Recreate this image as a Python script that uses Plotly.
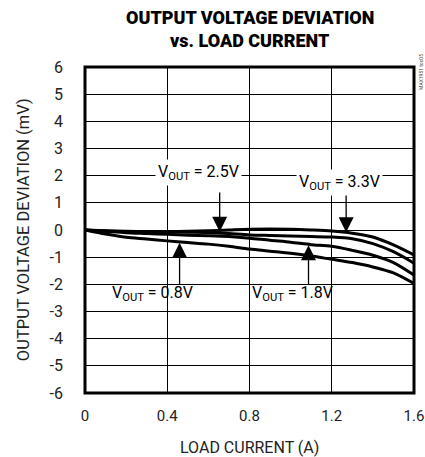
import plotly.graph_objects as go

load_current = [0, 0.1, 0.2, 0.3, 0.4, 0.5, 0.6, 0.7, 0.8, 0.9, 1.0, 1.1, 1.2, 1.3, 1.4, 1.5, 1.6]
dev_0v8 = [0, -0.15, -0.27, -0.33, -0.40, -0.46, -0.52, -0.60, -0.70, -0.78, -0.86, -0.96, -1.08, -1.20, -1.36, -1.58, -1.97]
dev_1v8 = [0, -0.05, -0.10, -0.13, -0.16, -0.19, -0.21, -0.24, -0.30, -0.38, -0.45, -0.54, -0.60, -0.75, -0.93, -1.20, -1.66]
dev_2v5 = [0, -0.03, -0.05, -0.06, -0.07, -0.08, -0.09, -0.13, -0.18, -0.20, -0.22, -0.24, -0.26, -0.32, -0.50, -0.80, -1.22]
dev_3v3 = [0, -0.04, -0.06, -0.07, -0.06, -0.05, -0.03, 0.0, 0.03, 0.04, 0.03, 0.0, -0.04, -0.12, -0.26, -0.55, -0.92]

x_ticks = [0, 0.4, 0.8, 1.2, 1.6]
x_tick_text = ["0", "0.4", "0.8", "1.2", "1.6"]
y_ticks = [6, 5, 4, 3, 2, 1, 0, -1, -2, -3, -4, -5, -6]
y_tick_text = ["6", "5", "4", "3", "2", "1", "0", "-1", "-2", "-3", "-4", "-5", "-6"]

labels = [("V<sub>OUT</sub> = 2.5V", 0.55, 2.12),
          ("V<sub>OUT</sub> = 3.3V", 1.24, 1.76),
          ("V<sub>OUT</sub> = 0.8V", 0.33, -2.32),
          ("V<sub>OUT</sub> = 1.8V", 1.01, -2.32)]
arrows = [(0.655, 1.44, -0.06), (1.27, 1.44, -0.08), (0.46, -2.05, -0.47), (1.087, -2.05, -0.56)]

FONT = "Roboto, Liberation Sans, sans-serif"

fig = go.Figure()
for ys in [dev_0v8, dev_1v8, dev_2v5, dev_3v3]:
    fig.add_trace(go.Scatter(x=load_current, y=ys, mode="lines",
                             line=dict(color="black", width=3, shape="spline", smoothing=0.8),
                             showlegend=False, hoverinfo="skip"))

for (xa, yt, yh) in arrows:
    fig.add_annotation(x=xa, y=yh, ax=xa, ay=yt, axref="x", ayref="y", xref="x", yref="y",
                       text="", showarrow=True, arrowhead=2, arrowsize=2.3, arrowwidth=1.3,
                       arrowcolor="black")

for (t, xa, ya) in labels:
    fig.add_annotation(x=xa, y=ya, xref="x", yref="y", text=t, showarrow=False,
                       font=dict(family=FONT, size=16, color="black"),
                       bgcolor="white" if ya > 0 else "rgba(0,0,0,0)", borderpad=2)

# title lines
fig.add_annotation(x=0.5, y=1.153, xref="paper", yref="paper", yanchor="middle", xanchor="center",
                   text="OUTPUT VOLTAGE DEVIATION",
                   showarrow=False, font=dict(family=FONT, size=18, color="black", weight=900))
fig.add_annotation(x=0.5, y=1.080, xref="paper", yref="paper", yanchor="middle", xanchor="center",
                   text="vs. LOAD CURRENT",
                   showarrow=False, font=dict(family=FONT, size=18, color="black", weight=900))
# axis titles
fig.add_annotation(x=-0.188, y=0.5, xref="paper", yref="paper", xanchor="center", yanchor="middle",
                   text="OUTPUT VOLTAGE DEVIATION (mV)",
                   textangle=-90, showarrow=False, font=dict(family=FONT, size=16.5, color="#222"))
fig.add_annotation(x=0.5, y=-0.168, xref="paper", yref="paper", xanchor="center", yanchor="middle",
                   text="LOAD CURRENT (A)",
                   showarrow=False, font=dict(family=FONT, size=16, color="#222"))
fig.add_annotation(x=1.0, y=1.0, xref="paper", yref="paper", xanchor="left", yanchor="top",
                   xshift=2, yshift=15, text="MAX1951 toc05", textangle=-90, showarrow=False,
                   font=dict(family=FONT, size=5, color="#444"))

fig.add_shape(type="rect", xref="paper", yref="paper", x0=0, y0=0, x1=1, y1=1,
              line=dict(color="black", width=3), layer="above")

fig.update_layout(
    width=425, height=457,
    margin=dict(l=85, r=11, t=67, b=64),
    paper_bgcolor="white", plot_bgcolor="white",
    font=dict(family=FONT, size=16, color="#222"),
)
fig.update_xaxes(range=[0, 1.6], tickvals=x_ticks, ticktext=x_tick_text, automargin=False,
                 showgrid=True, gridcolor="black", gridwidth=1, zeroline=False,
                 showline=False, ticks="", ticklabelstandoff=12, ticklabeloverflow="allow",
                 tickfont=dict(size=15))
fig.update_yaxes(range=[-6, 6], tickvals=y_ticks, ticktext=y_tick_text, automargin=False,
                 showgrid=True, gridcolor="black", gridwidth=1, zeroline=False,
                 showline=False, ticks="", ticklabelstandoff=21, ticklabeloverflow="allow")

fig.write_html("out.html", config={"displayModeBar": False},
               post_script="document.body.style.margin='0';document.body.style.overflow='hidden';")
